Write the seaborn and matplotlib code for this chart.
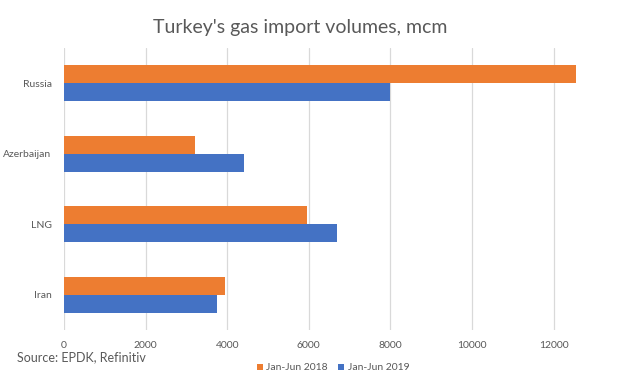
import matplotlib
matplotlib.use("Agg")
import matplotlib.pyplot as plt
import seaborn as sns
import pandas as pd

categories = ["Russia", "Azerbaijan", "LNG", "Iran"]
series_names = ["Jan-Jun 2018", "Jan-Jun 2019"]
values_2018 = [12550, 3200, 5950, 3950]
values_2019 = [8000, 4400, 6680, 3750]
x_ticks = [0, 2000, 4000, 6000, 8000, 10000, 12000]

df = pd.DataFrame({
    "source": categories * 2,
    "period": [series_names[0]] * 4 + [series_names[1]] * 4,
    "value": values_2018 + values_2019,
})

sns.set_theme(style="white")
plt.rcParams["font.family"] = ["Lato", "DejaVu Sans"]

W, H = 620, 383
fig = plt.figure(figsize=(W / 100, H / 100), dpi=100)
ax = fig.add_axes([64 / W, (H - 330) / H, 556 / W, 282 / H])

palette = {series_names[0]: "#ED7D31", series_names[1]: "#4472C4"}
sns.barplot(data=df, y="source", x="value", hue="period", order=categories,
            hue_order=series_names, palette=palette, width=0.51,
            orient="h", ax=ax, saturation=1, legend=False, linewidth=0)

ax.set_xlim(0, 13627)
ax.set_xticks(x_ticks)
ax.set_xticklabels([str(t) for t in x_ticks])
ax.xaxis.grid(True, color="#D9D9D9", linewidth=0.9)
ax.set_axisbelow(True)
for s in ax.spines.values():
    s.set_visible(False)
ax.set_xlabel("")
ax.set_ylabel("")
ax.tick_params(axis="both", length=0, labelsize=7.5, labelcolor="#595959")
ax.tick_params(axis="x", pad=8)
ax.tick_params(axis="y", pad=9)

fig.text(300 / W, 1 - 27 / H, "Turkey's gas import volumes, mcm", ha="center", va="center",
         fontsize=14, color="#595959")
fig.text(17 / W, 1 - 357 / H, "Source: EPDK, Refinitiv", ha="left", va="center",
         fontsize=9, color="#595959")

from matplotlib.patches import Patch
handles = [Patch(facecolor=palette[n], edgecolor="none") for n in series_names]
fig.legend(handles, series_names, loc="center", bbox_to_anchor=(333 / W, 1 - 368 / H),
           ncol=2, frameon=False, fontsize=7.5, handlelength=0.6, handleheight=0.6,
           handletextpad=0.3, columnspacing=1.0, labelcolor="#595959")

fig.savefig("out.png", dpi=100, facecolor="white")
